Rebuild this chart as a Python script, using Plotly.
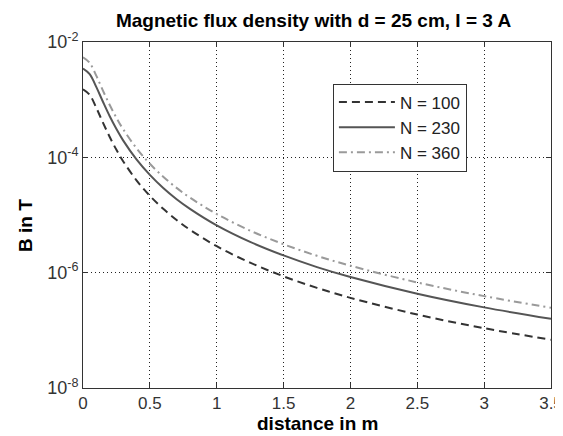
import plotly.graph_objects as go

# distance along the axis (m)
distance = [0, 0.05, 0.1, 0.15, 0.2, 0.25, 0.3, 0.4, 0.5, 0.6, 0.7, 0.8,
            1.0, 1.25, 1.5, 1.75, 2.0, 2.5, 3.0, 3.5]

# flux density in T
b_n100 = [1.51e-3, 1.21e-3, 7.18e-4, 3.96e-4, 2.25e-4, 1.35e-4, 8.58e-5, 4.00e-5,
          2.15e-5, 1.28e-5, 8.19e-6, 5.55e-6, 2.88e-6, 1.49e-6, 8.64e-7, 5.45e-7,
          3.66e-7, 1.88e-7, 1.09e-7, 6.86e-8]
b_n230 = [3.47e-3, 2.78e-3, 1.65e-3, 9.10e-4, 5.16e-4, 3.10e-4, 1.97e-4, 9.20e-5,
          4.95e-5, 2.94e-5, 1.88e-5, 1.28e-5, 6.62e-6, 3.42e-6, 1.99e-6, 1.25e-6,
          8.42e-7, 4.32e-7, 2.50e-7, 1.58e-7]
b_n360 = [5.43e-3, 4.35e-3, 2.58e-3, 1.42e-3, 8.08e-4, 4.86e-4, 3.09e-4, 1.44e-4,
          7.74e-5, 4.60e-5, 2.95e-5, 2.00e-5, 1.04e-5, 5.35e-6, 3.11e-6, 1.96e-6,
          1.32e-6, 6.76e-7, 3.92e-7, 2.47e-7]

series_names = ["N = 100", "N = 230", "N = 360"]

x_ticks = [0, 0.5, 1, 1.5, 2, 2.5, 3, 3.5]
x_tick_text = ["0", "0.5", "1", "1.5", "2", "2.5", "3", "3.5"]
y_ticks = [1e-2, 1e-4, 1e-6, 1e-8]
y_tick_text = ["10<sup>-2</sup>", "10<sup>-4</sup>", "10<sup>-6</sup>", "10<sup>-8</sup>"]

FONT = "Liberation Sans, Arial"

fig = go.Figure()

styles = [("#333333", "8px,5px"), ("#555555", "solid"), ("#9a9a9a", "8px,4px,2px,4px")]
for name, ys, (col, dash) in zip(series_names, [b_n100, b_n230, b_n360], styles):
    fig.add_trace(go.Scatter(x=distance, y=ys, mode="lines", name=name,
                             line=dict(color=col, width=2, dash=dash, shape="spline")))

axis_common = dict(
    showline=True, linecolor="#333", linewidth=1, mirror="ticks",
    ticks="inside", ticklen=5, tickcolor="#333",
    showgrid=True, gridcolor="#222", griddash="1px,3px", gridwidth=1,
    zeroline=False, automargin=False, ticklabeloverflow="allow",
)

# the page body adds an 8px margin, so the figure is a bit smaller than the window
fig.update_layout(
    width=555, height=428,
    margin=dict(l=75, r=12, t=34, b=48),
    paper_bgcolor="white", plot_bgcolor="white",
    title=dict(text="<b>Magnetic flux density with d = 25 cm, I = 3 A</b>",
               x=0.5505, xanchor="center", y=0.972, yanchor="middle",
               font=dict(family=FONT, size=19, color="black")),
    xaxis=dict(range=[0, 3.5], tickvals=x_ticks, ticktext=x_tick_text,
               tickfont=dict(family=FONT, size=17, color="#333"), **axis_common),
    yaxis=dict(type="log", range=[-8, -2], tickvals=y_ticks, ticktext=y_tick_text,
               tickfont=dict(family=FONT, size=18, color="#333"), **axis_common),
    legend=dict(x=0.534, y=0.88, xanchor="left", yanchor="top",
                bgcolor="white", bordercolor="#333", borderwidth=1,
                font=dict(family=FONT, size=17, color="#222"),
                itemwidth=56, tracegroupgap=0),
    showlegend=True,
)

# axis titles as annotations so they sit where the reference has them
fig.add_annotation(text="<b>distance in m</b>", xref="paper", yref="paper",
                   x=0.5, y=-0.104, xanchor="center", yanchor="middle",
                   showarrow=False, font=dict(family=FONT, size=19, color="black"))
fig.add_annotation(text="<b>B in T</b>", xref="paper", yref="paper",
                   x=-0.124, y=0.471, xanchor="center", yanchor="middle", textangle=-90,
                   showarrow=False, font=dict(family=FONT, size=19, color="black"))

fig.write_html("out.html")
